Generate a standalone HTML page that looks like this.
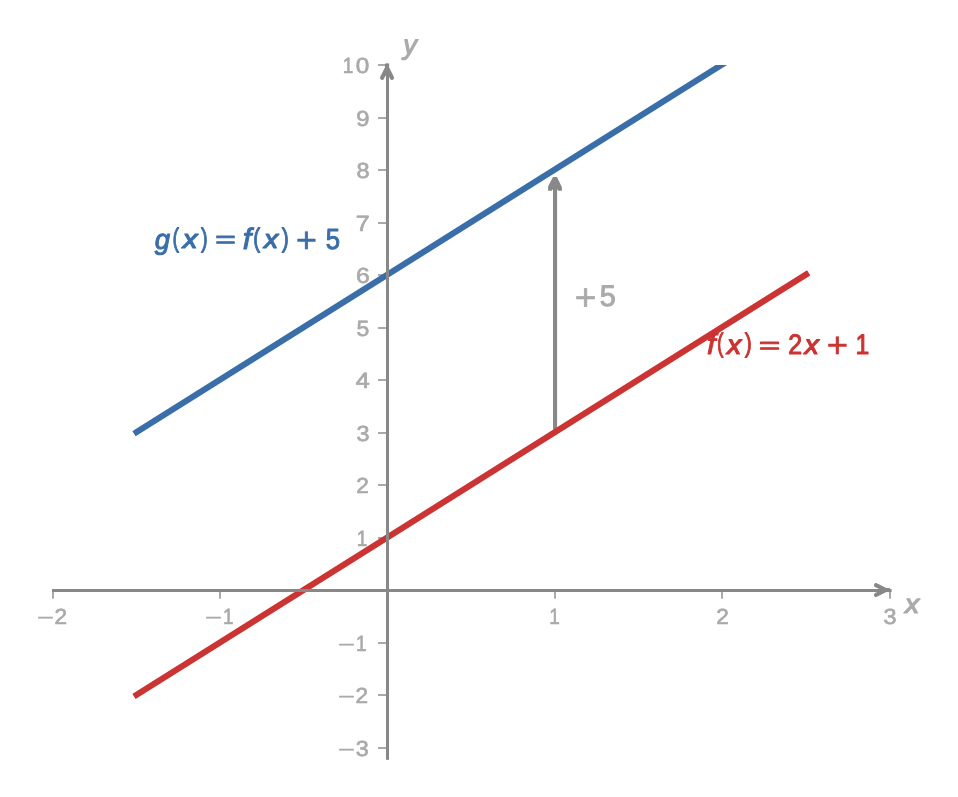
<!DOCTYPE html>
<html lang="en">
<head>
<meta charset="utf-8">
<title>Vertical shift of a linear function</title>
<style>
html,body{margin:0;padding:0;background:#ffffff;}
body{width:958px;height:797px;overflow:hidden;font-family:"Liberation Sans",sans-serif;}
svg{display:block;font-family:"Liberation Sans",sans-serif;will-change:transform;}
text{text-rendering:geometricPrecision;}
</style>
</head>
<body>
<svg width="958" height="797" viewBox="0 0 958 797">
<rect width="958" height="797" fill="#ffffff"/>
<g fill="#aaaaaa"><rect x="52" y="590.5" width="2" height="8.2"/><rect x="219" y="590.5" width="2" height="8.2"/><rect x="554" y="590.5" width="2" height="8.2"/><rect x="721" y="590.5" width="2" height="8.2"/><rect x="889" y="590.5" width="2" height="8.2"/><rect x="378" y="64" width="9.5" height="2"/><rect x="378" y="117" width="9.5" height="2"/><rect x="378" y="169" width="9.5" height="2"/><rect x="378" y="222" width="9.5" height="2"/><rect x="378" y="274" width="9.5" height="2"/><rect x="378" y="327" width="9.5" height="2"/><rect x="378" y="379" width="9.5" height="2"/><rect x="378" y="432" width="9.5" height="2"/><rect x="378" y="484" width="9.5" height="2"/><rect x="378" y="537" width="9.5" height="2"/><rect x="378" y="642" width="9.5" height="2"/><rect x="378" y="694" width="9.5" height="2"/><rect x="378" y="747" width="9.5" height="2"/></g>
<text fill="#aaaaaa" stroke="#aaaaaa" stroke-width="0.7" stroke-linejoin="round"><tspan x="37.02" y="624" font-size="18.94" textLength="16.95" lengthAdjust="spacingAndGlyphs" stroke-width="0.4">−</tspan><tspan x="54.51" y="624" font-size="21.84" textLength="12.57" lengthAdjust="spacingAndGlyphs">2</tspan></text>
<text fill="#aaaaaa" stroke="#aaaaaa" stroke-width="0.7" stroke-linejoin="round"><tspan x="205.02" y="624" font-size="18.94" textLength="16.95" lengthAdjust="spacingAndGlyphs" stroke-width="0.4">−</tspan><tspan x="223.1" y="624" font-size="22.17" textLength="10.58" lengthAdjust="spacingAndGlyphs">1</tspan></text>
<text fill="#aaaaaa" stroke="#aaaaaa" stroke-width="0.7" stroke-linejoin="round"><tspan x="549.2" y="624" font-size="22.17" textLength="10.58" lengthAdjust="spacingAndGlyphs">1</tspan></text>
<text fill="#aaaaaa" stroke="#aaaaaa" stroke-width="0.7" stroke-linejoin="round"><tspan x="716.21" y="624" font-size="21.84" textLength="12.57" lengthAdjust="spacingAndGlyphs">2</tspan></text>
<text fill="#aaaaaa" stroke="#aaaaaa" stroke-width="0.7" stroke-linejoin="round"><tspan x="883.46" y="624" font-size="21.84" textLength="13.02" lengthAdjust="spacingAndGlyphs">3</tspan></text>
<text fill="#aaaaaa" stroke="#aaaaaa" stroke-width="0.7" stroke-linejoin="round"><tspan x="342.8" y="73" font-size="22.17" textLength="10.58" lengthAdjust="spacingAndGlyphs">1</tspan><tspan x="355.7" y="73" font-size="21.84" textLength="13.5" lengthAdjust="spacingAndGlyphs">0</tspan></text>
<text fill="#aaaaaa" stroke="#aaaaaa" stroke-width="0.7" stroke-linejoin="round"><tspan x="356.33" y="126" font-size="21.84" textLength="13.24" lengthAdjust="spacingAndGlyphs">9</tspan></text>
<text fill="#aaaaaa" stroke="#aaaaaa" stroke-width="0.7" stroke-linejoin="round"><tspan x="356.53" y="178" font-size="21.84" textLength="13.04" lengthAdjust="spacingAndGlyphs">8</tspan></text>
<text fill="#aaaaaa" stroke="#aaaaaa" stroke-width="0.7" stroke-linejoin="round"><tspan x="355.86" y="231" font-size="22.17" textLength="13.95" lengthAdjust="spacingAndGlyphs">7</tspan></text>
<text fill="#aaaaaa" stroke="#aaaaaa" stroke-width="0.7" stroke-linejoin="round"><tspan x="356" y="283" font-size="21.84" textLength="13.74" lengthAdjust="spacingAndGlyphs">6</tspan></text>
<text fill="#aaaaaa" stroke="#aaaaaa" stroke-width="0.7" stroke-linejoin="round"><tspan x="356.63" y="336" font-size="22.17" textLength="12.79" lengthAdjust="spacingAndGlyphs">5</tspan></text>
<text fill="#aaaaaa" stroke="#aaaaaa" stroke-width="0.7" stroke-linejoin="round"><tspan x="355.77" y="388" font-size="22.17" textLength="14.02" lengthAdjust="spacingAndGlyphs">4</tspan></text>
<text fill="#aaaaaa" stroke="#aaaaaa" stroke-width="0.7" stroke-linejoin="round"><tspan x="356.46" y="441" font-size="21.84" textLength="13.02" lengthAdjust="spacingAndGlyphs">3</tspan></text>
<text fill="#aaaaaa" stroke="#aaaaaa" stroke-width="0.7" stroke-linejoin="round"><tspan x="356.21" y="493" font-size="21.84" textLength="12.57" lengthAdjust="spacingAndGlyphs">2</tspan></text>
<text fill="#aaaaaa" stroke="#aaaaaa" stroke-width="0.7" stroke-linejoin="round"><tspan x="356.8" y="546" font-size="22.17" textLength="10.58" lengthAdjust="spacingAndGlyphs">1</tspan></text>
<text fill="#aaaaaa" stroke="#aaaaaa" stroke-width="0.7" stroke-linejoin="round"><tspan x="338.02" y="651" font-size="18.94" textLength="16.95" lengthAdjust="spacingAndGlyphs" stroke-width="0.4">−</tspan><tspan x="356.1" y="651" font-size="22.17" textLength="10.58" lengthAdjust="spacingAndGlyphs">1</tspan></text>
<text fill="#aaaaaa" stroke="#aaaaaa" stroke-width="0.7" stroke-linejoin="round"><tspan x="338.02" y="703" font-size="18.94" textLength="16.95" lengthAdjust="spacingAndGlyphs" stroke-width="0.4">−</tspan><tspan x="355.51" y="703" font-size="21.84" textLength="12.57" lengthAdjust="spacingAndGlyphs">2</tspan></text>
<text fill="#aaaaaa" stroke="#aaaaaa" stroke-width="0.7" stroke-linejoin="round"><tspan x="338.02" y="756" font-size="18.94" textLength="16.95" lengthAdjust="spacingAndGlyphs" stroke-width="0.4">−</tspan><tspan x="355.76" y="756" font-size="21.84" textLength="13.02" lengthAdjust="spacingAndGlyphs">3</tspan></text>
<rect x="553" y="188" width="4.1" height="241.6" fill="#888888"/>
<path d="M553 177.1 L557 177.1 L561.9 187.2 L561.9 190.7 L558.1 190.7 L557.1 188.9 L553 188.9 L551.9 190.7 L548.1 190.7 L548.1 186.2 Z" fill="#888888"/>
<defs><clipPath id="axclip"><rect x="0" y="65.0" width="958" height="800"/></clipPath></defs>
<line x1="136.59" y1="694.9" x2="806.11" y2="274.5" stroke="#cc3333" stroke-width="6.1" stroke-linecap="square"/>
<line x1="136.59" y1="432.15" x2="806.11" y2="11.75" stroke="#3a6ea8" stroke-width="6.1" stroke-linecap="square" clip-path="url(#axclip)"/>
<rect x="386" y="63.6" width="3" height="696.2" fill="#888888"/>
<rect x="52.0" y="589" width="839.6" height="3" fill="#888888"/>
<rect x="384.95" y="63.6" width="4.17" height="12.4" fill="#888888"/>
<path d="M382.1 77.8 L387.03 67.96 L391.96 77.8" fill="none" stroke="#888888" stroke-width="4.17" stroke-linecap="round" stroke-linejoin="round"/>
<rect x="880" y="587.92" width="9.8" height="4.17" fill="#888888"/>
<path d="M876 585.08 L885.84 590 L876 594.92" fill="none" stroke="#888888" stroke-width="4.17" stroke-linecap="round" stroke-linejoin="round"/>
<text fill="#3a6ea8" stroke="#3a6ea8" stroke-width="0.7" stroke-linejoin="round"><tspan x="154.75" y="249" font-size="28.18" textLength="15.3" lengthAdjust="spacingAndGlyphs" font-style="italic" stroke-width="1.0">g</tspan><tspan x="172.58" y="247" font-size="26.83" textLength="6.53" lengthAdjust="spacingAndGlyphs" stroke-width="1.0">(</tspan><tspan x="182.78" y="248" font-size="26.5" textLength="14.75" lengthAdjust="spacingAndGlyphs" font-style="italic" stroke-width="1.2">x</tspan><tspan x="200.88" y="247" font-size="26.83" textLength="6.66" lengthAdjust="spacingAndGlyphs" stroke-width="1.0">)</tspan><tspan x="215.18" y="247" font-size="22.34" textLength="20.55" lengthAdjust="spacingAndGlyphs" stroke-width="1.0">=</tspan><tspan x="242.76" y="249" font-size="29.67" textLength="8.57" lengthAdjust="spacingAndGlyphs" font-style="italic" stroke-width="1.0">f</tspan><tspan x="253.21" y="247" font-size="26.83" textLength="6.91" lengthAdjust="spacingAndGlyphs" stroke-width="1.0">(</tspan><tspan x="264.04" y="248" font-size="26.5" textLength="14.23" lengthAdjust="spacingAndGlyphs" font-style="italic" stroke-width="1.2">x</tspan><tspan x="281.68" y="247" font-size="26.83" textLength="7.03" lengthAdjust="spacingAndGlyphs" stroke-width="1.0">)</tspan><tspan x="296.05" y="252" font-size="35.16" textLength="20.91" lengthAdjust="spacingAndGlyphs" stroke-width="0.6">+</tspan><tspan x="325.77" y="249" font-size="29.22" textLength="14.31" lengthAdjust="spacingAndGlyphs" stroke-width="1.0">5</tspan></text>
<text fill="#cc3333" stroke="#cc3333" stroke-width="0.7" stroke-linejoin="round"><tspan x="706.96" y="354" font-size="28.98" textLength="8.57" lengthAdjust="spacingAndGlyphs" font-style="italic" stroke-width="1.0">f</tspan><tspan x="717.08" y="352" font-size="26.83" textLength="6.53" lengthAdjust="spacingAndGlyphs" stroke-width="1.0">(</tspan><tspan x="727.05" y="354" font-size="27.45" textLength="14.31" lengthAdjust="spacingAndGlyphs" font-style="italic" stroke-width="1.2">x</tspan><tspan x="744.68" y="352" font-size="26.83" textLength="7.03" lengthAdjust="spacingAndGlyphs" stroke-width="1.0">)</tspan><tspan x="758.93" y="353" font-size="22.34" textLength="21.16" lengthAdjust="spacingAndGlyphs" stroke-width="1.0">=</tspan><tspan x="788.34" y="354" font-size="28.21" textLength="13.92" lengthAdjust="spacingAndGlyphs" stroke-width="1.0">2</tspan><tspan x="804.55" y="354" font-size="27.45" textLength="14.4" lengthAdjust="spacingAndGlyphs" font-style="italic" stroke-width="1.2">x</tspan><tspan x="826.72" y="357" font-size="35.16" textLength="21.28" lengthAdjust="spacingAndGlyphs" stroke-width="0.6">+</tspan><tspan x="855.51" y="354" font-size="28.34" textLength="13.8" lengthAdjust="spacingAndGlyphs" stroke-width="1.0">1</tspan></text>
<text fill="#aaaaaa" stroke="#aaaaaa" stroke-width="0.7" stroke-linejoin="round"><tspan x="574.69" y="310" font-size="37.4" textLength="21.64" lengthAdjust="spacingAndGlyphs" stroke-width="0.6">+</tspan><tspan x="599.64" y="306" font-size="29.65" textLength="16.07" lengthAdjust="spacingAndGlyphs" stroke-width="1.0">5</tspan></text>
<text fill="#aaaaaa" stroke="#aaaaaa" stroke-width="0.7" stroke-linejoin="round"><tspan x="904.94" y="613" font-size="26.69" textLength="14.23" lengthAdjust="spacingAndGlyphs" font-style="italic" stroke-width="1.2">x</tspan></text>
<text fill="#aaaaaa" stroke="#aaaaaa" stroke-width="0.7" stroke-linejoin="round"><tspan x="403.2" y="54" font-size="27.45" textLength="13.68" lengthAdjust="spacingAndGlyphs" font-style="italic" stroke-width="1.1">y</tspan></text>
</svg>
</body>
</html>
